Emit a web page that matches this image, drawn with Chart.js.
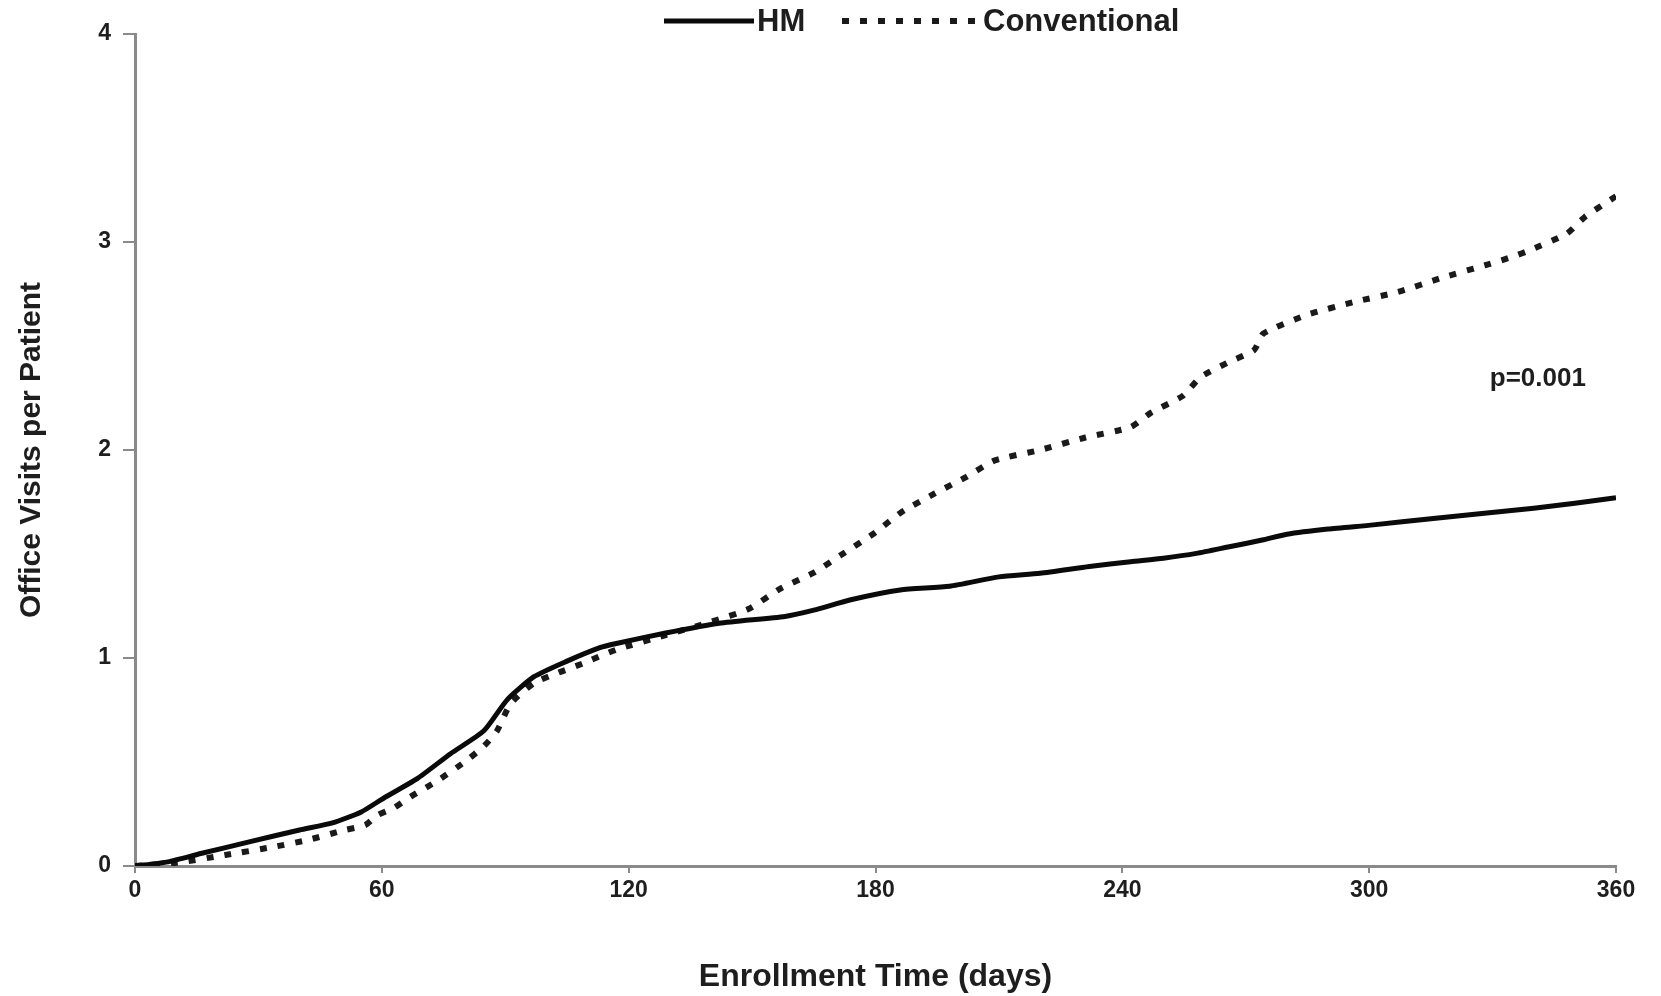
<!DOCTYPE html>
<html>
<head>
<meta charset="utf-8">
<script src="https://cdn.jsdelivr.net/npm/chart.js@4"></script>
<style>
  html, body { margin: 0; padding: 0; background: #fff; }
</style>
</head>
<body>
<canvas id="chartVisits" width="1661" height="996"></canvas>
<script>
// 数据
const seriesNames = ['HM', 'Conventional'];
const hmDays = [0, 8, 16, 28, 40, 48, 55, 60.5, 68.6, 76.7, 84.8, 90.5, 97, 105, 113, 117, 129, 142, 158, 165, 174, 186, 198, 210, 220, 232, 242, 250, 258, 266, 274, 280, 290, 301, 315, 328, 340, 350, 360];
const hmVisits = [0, 0.02, 0.06, 0.117, 0.173, 0.207, 0.26, 0.327, 0.42, 0.54, 0.65, 0.8, 0.91, 0.985, 1.05, 1.07, 1.12, 1.167, 1.2, 1.23, 1.28, 1.327, 1.345, 1.39, 1.407, 1.44, 1.463, 1.48, 1.503, 1.535, 1.567, 1.595, 1.62, 1.64, 1.67, 1.696, 1.72, 1.744, 1.77];
const convDays = [0, 10, 22, 34, 42, 51, 56, 59, 63, 67, 73.5, 80.8, 85, 88, 91.3, 97, 103, 109, 117, 129, 140, 149, 157, 165, 171.6, 179.7, 186.2, 194.3, 202, 209, 220, 231, 242, 247, 254.7, 259, 265.6, 272, 274.3, 285, 296, 307, 318, 328.5, 335, 339, 348, 352.4, 360];
const convVisits = [0, 0.015, 0.053, 0.093, 0.125, 0.173, 0.197, 0.245, 0.28, 0.333, 0.41, 0.51, 0.58, 0.65, 0.78, 0.88, 0.93, 0.975, 1.04, 1.11, 1.174, 1.234, 1.335, 1.41, 1.495, 1.6, 1.7, 1.79, 1.87, 1.95, 2.0, 2.06, 2.11, 2.18, 2.26, 2.35, 2.42, 2.48, 2.56, 2.65, 2.71, 2.76, 2.83, 2.89, 2.93, 2.96, 3.04, 3.12, 3.22];
const xTicks = [0, 60, 120, 180, 240, 300, 360];
const yTicks = [0, 1, 2, 3, 4];
const pValueText = 'p=0.001';
const pValueAt = [341, 2.34];

const fontFamily = '"Liberation Sans", Arial, sans-serif';
const axisGray = '#8a8a8a';
const textColor = '#1e1e1e';

function toPoints(xs, ys) {
    return xs.map((x, i) => ({ x: x, y: ys[i] }));
}

// 图例和 p 值
const annotatePlugin = {
    id: 'annotate',
    afterDraw(chart) {
        const ctx = chart.ctx;
        const xs = chart.scales.x, ys = chart.scales.y;
        ctx.save();
        ctx.fillStyle = textColor;
        ctx.textBaseline = 'middle';

        ctx.font = 'bold 26px ' + fontFamily;
        ctx.textAlign = 'center';
        ctx.fillText(pValueText, xs.getPixelForValue(pValueAt[0]), ys.getPixelForValue(pValueAt[1]));

        const legendItems = [
            { x0: 664, x1: 754, tx: 757 },
            { x0: 842, x1: 980, tx: 983 }
        ];
        const ly = 21;
        ctx.font = 'bold 31px ' + fontFamily;
        ctx.textAlign = 'left';
        legendItems.forEach((item, i) => {
            const ds = chart.data.datasets[i];
            ctx.strokeStyle = ds.borderColor;
            ctx.lineWidth = ds.borderWidth;
            ctx.lineCap = 'butt';
            ctx.setLineDash(ds.borderDash || []);
            ctx.beginPath();
            ctx.moveTo(item.x0, ly);
            ctx.lineTo(item.x1, ly);
            ctx.stroke();
            ctx.setLineDash([]);
            ctx.fillText(seriesNames[i], item.tx, ly + 1);
        });
        ctx.restore();
    }
};

let chartVisits = new Chart(document.getElementById('chartVisits'), {
    type: 'line',
    data: {
        datasets: [
            {
                label: seriesNames[0],
                data: toPoints(hmDays, hmVisits),
                borderColor: '#0a0a0a',
                borderWidth: 5,
                pointRadius: 0,
                tension: 0.2,
                borderJoinStyle: 'round'
            },
            {
                label: seriesNames[1],
                data: toPoints(convDays, convVisits),
                borderColor: '#1a1a1a',
                borderWidth: 6,
                borderDash: [7, 11],
                borderCapStyle: 'butt',
                pointRadius: 0,
                tension: 0.2
            }
        ]
    },
    options: {
        responsive: false,
        animation: false,
        devicePixelRatio: 1,
        layout: { padding: { left: 0, right: 45, top: 34, bottom: 0 } },
        plugins: {
            legend: { display: false },
            tooltip: { enabled: false }
        },
        scales: {
            x: {
                type: 'linear',
                min: 0,
                max: 360,
                afterBuildTicks: s => { s.ticks = xTicks.map(v => ({ value: v })); },
                afterFit: s => { s.height = 130; },
                border: { display: true, color: axisGray, width: 3 },
                grid: { drawOnChartArea: false, drawTicks: true, tickLength: 7, color: axisGray, lineWidth: 2 },
                ticks: { color: textColor, font: { family: fontFamily, size: 23, weight: 'bold' }, padding: 4, maxRotation: 0 },
                title: {
                    display: true,
                    text: 'Enrollment Time (days)',
                    color: textColor,
                    font: { family: fontFamily, size: 32, weight: 'bold' },
                    padding: { top: 0, bottom: 0 }
                }
            },
            y: {
                type: 'linear',
                min: 0,
                max: 4,
                afterBuildTicks: s => { s.ticks = yTicks.map(v => ({ value: v })); },
                afterFit: s => { s.width = 135; },
                border: { display: true, color: axisGray, width: 3 },
                grid: { drawOnChartArea: false, drawTicks: true, tickLength: 12, color: axisGray, lineWidth: 2 },
                ticks: { color: textColor, font: { family: fontFamily, size: 23, weight: 'bold' }, padding: 12 },
                title: {
                    display: true,
                    text: 'Office Visits per Patient',
                    color: textColor,
                    font: { family: fontFamily, size: 30, weight: 'bold' },
                    padding: { top: 14, bottom: 0 }
                }
            }
        }
    },
    plugins: [annotatePlugin]
});
</script>
</body>
</html>
